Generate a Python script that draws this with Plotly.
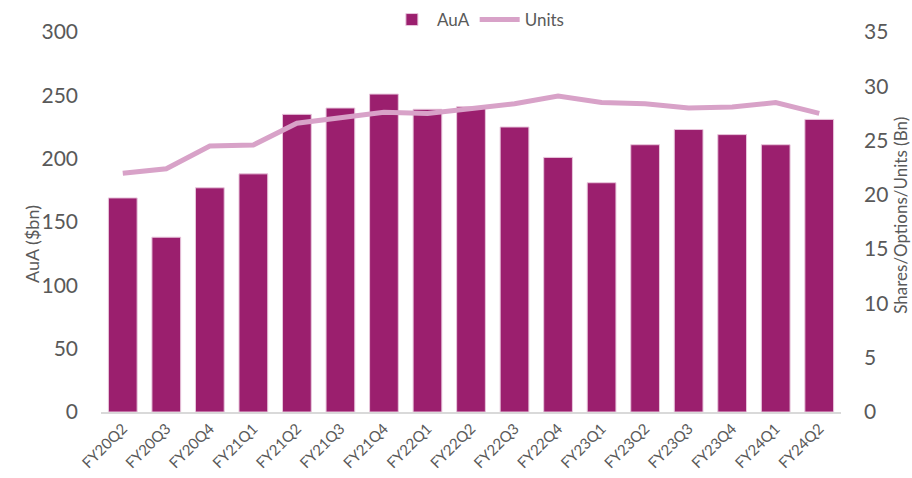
import plotly.graph_objects as go

categories = ["FY20Q2","FY20Q3","FY20Q4","FY21Q1","FY21Q2","FY21Q3","FY21Q4","FY22Q1","FY22Q2",
              "FY22Q3","FY22Q4","FY23Q1","FY23Q2","FY23Q3","FY23Q4","FY24Q1","FY24Q2"]
aua = [169, 138, 177, 188, 235, 240, 251, 239, 241, 225, 201, 181, 211, 223, 219, 211, 231]
units = [22.0, 22.4, 24.5, 24.6, 26.6, 27.1, 27.6, 27.5, 27.9, 28.4, 29.1, 28.5, 28.4, 28.0, 28.1, 28.5, 27.5]

BAR = "#9B1F6E"
LINE = "#D8A2C8"
TXT = "#595959"
FONT = "Lato, Open Sans, sans-serif"

fig = go.Figure()
fig.add_trace(go.Bar(x=categories, y=aua, name="AuA",
                     marker=dict(color=BAR, line=dict(color="#E8C6DC", width=1)), yaxis="y"))
fig.add_trace(go.Scatter(x=categories, y=units, name="Units", mode="lines",
                         line=dict(color=LINE, width=5), yaxis="y2"))

fig.update_layout(
    width=912, height=478,
    margin=dict(l=101, r=71, t=32, b=66, autoexpand=False),
    plot_bgcolor="white", paper_bgcolor="white",
    font=dict(family=FONT, color=TXT),
    bargap=0.34,
    showlegend=True,
    legend=dict(orientation="h", x=0.51, xanchor="center", y=1.0316, yanchor="middle",
                font=dict(size=17, color=TXT), bgcolor="rgba(0,0,0,0)", traceorder="normal",
                itemwidth=40),
    xaxis=dict(type="category", tickangle=-45, tickfont=dict(size=15, color=TXT), automargin=False,
               showline=True, linecolor="#D9D9D9", linewidth=2, showgrid=False, ticks=""),
    yaxis=dict(range=[0, 300], dtick=50, showgrid=False, zeroline=False, showline=False,
               tickfont=dict(size=21, color=TXT), ticks="", automargin=False, ticklabelstandoff=22),
    yaxis2=dict(range=[0, 35], dtick=5, overlaying="y", side="right", showgrid=False, zeroline=False,
                tickfont=dict(size=21, color=TXT), automargin=False, ticklabelstandoff=22),
    annotations=[
        dict(text="AuA ($bn)", xref="paper", yref="paper", x=-0.0932, y=0.442, textangle=-90,
             showarrow=False, font=dict(size=18, color=TXT), xanchor="center", yanchor="middle"),
        dict(text="Shares/Options/Units (Bn)", xref="paper", yref="paper", x=1.0805, y=0.518, textangle=-90,
             showarrow=False, font=dict(size=17, color=TXT), xanchor="center", yanchor="middle"),
    ],
)

fig.write_html("out.html", config={"displayModeBar": False},
               post_script="document.body.style.margin='0';document.body.style.overflow='hidden';")
